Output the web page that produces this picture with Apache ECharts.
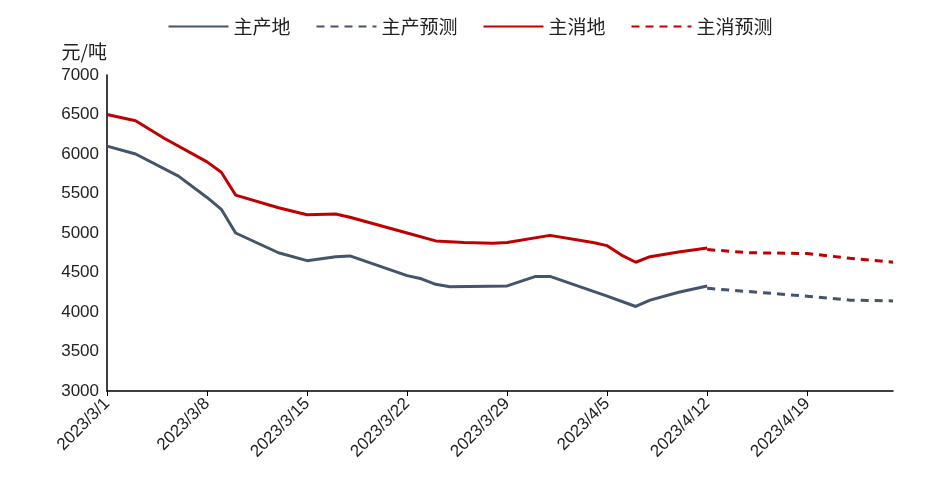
<!DOCTYPE html><html><head><meta charset="utf-8"><script src="https://cdn.jsdelivr.net/npm/echarts@6/dist/echarts.min.js"></script></head><body style="margin:0"><div id="c" style="width:940px;height:504px"></div><script>
const dates=[];for(let d=1;d<=31;d++)dates.push('2023/3/'+d);for(let d=1;d<=25;d++)dates.push('2023/4/'+d);
const prodActual=[['2023/3/1',6100],['2023/3/3',6000],['2023/3/6',5720],['2023/3/8',5450],['2023/3/9',5300],['2023/3/10',5000],['2023/3/13',4750],['2023/3/15',4650],['2023/3/17',4700],['2023/3/18',4710],['2023/3/22',4460],['2023/3/23',4420],['2023/3/24',4350],['2023/3/25',4320],['2023/3/29',4330],['2023/3/31',4450],['2023/4/1',4450],['2023/4/5',4200],['2023/4/7',4070],['2023/4/8',4150],['2023/4/10',4250],['2023/4/12',4330]];
const prodForecast=[['2023/4/12',4300],['2023/4/19',4200],['2023/4/22',4150],['2023/4/25',4140]];
const consActual=[['2023/3/1',6500],['2023/3/3',6420],['2023/3/5',6200],['2023/3/8',5900],['2023/3/9',5770],['2023/3/10',5480],['2023/3/13',5320],['2023/3/15',5230],['2023/3/17',5240],['2023/3/18',5200],['2023/3/22',5000],['2023/3/24',4900],['2023/3/26',4880],['2023/3/28',4870],['2023/3/29',4880],['2023/4/1',4970],['2023/4/4',4880],['2023/4/5',4840],['2023/4/6',4720],['2023/4/7',4630],['2023/4/8',4700],['2023/4/10',4760],['2023/4/12',4810]];
const consForecast=[['2023/4/12',4790],['2023/4/15',4750],['2023/4/19',4740],['2023/4/22',4680],['2023/4/25',4630]];
const names=['主产地','主产预测','主消地','主消预测'];
const c=echarts.init(document.getElementById('c'));
const mk=(n,d,col,dash)=>({name:n,type:'line',data:d,symbol:'none',lineStyle:{color:col,width:3,type:dash?[8,6]:'solid'},itemStyle:{color:col}});
c.setOption({animation:false,
legend:{top:12,left:'center',itemWidth:60,itemHeight:14,itemGap:25,itemStyle:{opacity:0},textStyle:{fontSize:19,color:'#222',fontFamily:'Noto Sans CJK SC'}},
grid:{left:107,right:47,top:75,bottom:113},
xAxis:{type:'category',data:dates,boundaryGap:false,axisTick:{alignWithLabel:true,interval:6,length:5,lineStyle:{color:'#000'}},axisLine:{lineStyle:{color:'#000',width:1.5}},axisLabel:{interval:6,rotate:45,fontSize:17,color:'#222',margin:10}},
yAxis:{type:'value',min:3000,max:7000,interval:500,name:'元/吨',nameGap:14,nameTextStyle:{fontSize:19,color:'#222',align:'right',fontFamily:'Noto Sans CJK SC'},splitLine:{show:false},axisLine:{show:true,lineStyle:{color:'#000',width:1.5}},axisLabel:{fontSize:17,color:'#222',formatter:v=>String(v)}},
series:[mk(names[0],prodActual,'#44546a',false),mk(names[1],prodForecast,'#44546a',true),mk(names[2],consActual,'#c00000',false),mk(names[3],consForecast,'#c00000',true)]});
</script></body></html>
